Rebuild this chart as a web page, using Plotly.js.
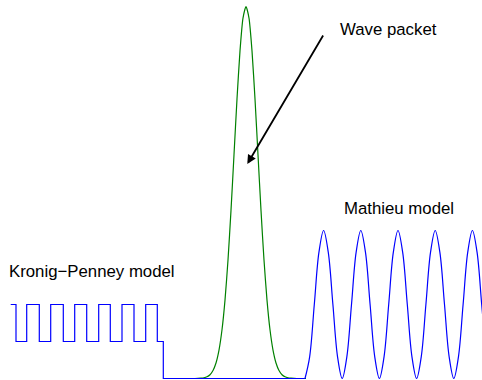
<!DOCTYPE html>
<html>
<head>
<meta charset="utf-8">
<script src="https://cdn.plot.ly/plotly-3.0.1.min.js"></script>
<style>
  html, body { margin: 0; padding: 0; background: #ffffff; }
  #chart { width: 482px; height: 380px; }
</style>
</head>
<body>
<div id="chart"></div>
<script>
// Kronig–Penney potential: step corners (drawn with an 'hv' step line), then flat floor
const kpX = [10.7, 16, 26.7, 39.3, 50.7, 63.3, 74.7, 86.7, 98.7, 110.3, 122, 134, 145.7, 157.3, 163.3, 305];
const kpY = [74, 37, 74, 37, 74, 37, 74, 37, 74, 37, 74, 37, 74, 37, 0, 0];

// Mathieu potential: cosine-shaped wells, sampled every eighth of a period
const mathieuX = [305, 309.65, 314.3, 318.95, 323.6, 328.25, 332.9, 337.55,
                  342.2, 346.85, 351.5, 356.15, 360.8, 365.45, 370.1, 374.75,
                  379.4, 384.05, 388.7, 393.35, 398, 402.65, 407.3, 411.95,
                  416.6, 421.25, 425.9, 430.55, 435.2, 439.85, 444.5, 449.15,
                  453.8, 458.45, 463.1, 467.75, 472.4, 477.05, 481.7, 486.35];
const mathieuY = [0, 21.7, 74, 126.3, 148, 126.3, 74, 21.7,
                  0, 21.7, 74, 126.3, 148, 126.3, 74, 21.7,
                  0, 21.7, 74, 126.3, 148, 126.3, 74, 21.7,
                  0, 21.7, 74, 126.3, 148, 126.3, 74, 21.7,
                  0, 21.7, 74, 126.3, 148, 126.3, 74, 21.7];

// Gaussian wave packet envelope
const packetX = [186, 189, 192, 195, 198, 201, 204, 207, 210, 213, 216, 219, 222, 225,
                 228, 231, 234, 237, 240, 243, 246, 249, 252, 255, 258, 261, 264, 267,
                 270, 273, 276, 279, 282, 285, 288, 291, 294, 297, 300, 303, 306];
const packetY = [0, 0, 0, 0, 0.1, 0.3, 0.7, 1.7, 3.8, 8.0, 15.5, 28.4, 48.7, 78.4,
                 118.5, 168.1, 223.7, 279.5, 327.6, 360.4, 372, 360.4, 327.6, 279.5,
                 223.7, 168.1, 118.5, 78.4, 48.7, 28.4, 15.5, 8.0, 3.8, 1.7, 0.7, 0.3,
                 0.1, 0, 0, 0, 0];

const labels = {
  packet: 'Wave packet',
  mathieu: 'Mathieu model',
  kronig: 'Kronig\u2212Penney model'
};

const BLUE = '#0000ff';
const GREEN = '#008000';
const FONT = { family: 'Liberation Sans, Arial, sans-serif', size: 16.8, color: '#000000' };

const traces = [
  {
    x: packetX, y: packetY, type: 'scatter', mode: 'lines',
    line: { color: GREEN, width: 1.2, shape: 'spline', smoothing: 0.6 },
    hoverinfo: 'skip'
  },
  {
    x: kpX, y: kpY, type: 'scatter', mode: 'lines',
    line: { color: BLUE, width: 1.2, shape: 'hv' },
    hoverinfo: 'skip'
  },
  {
    x: mathieuX, y: mathieuY, type: 'scatter', mode: 'lines',
    line: { color: BLUE, width: 1.2, shape: 'spline', smoothing: 1 },
    hoverinfo: 'skip'
  }
];

const layout = {
  width: 482, height: 380,
  margin: { l: 0, r: 0, t: 0, b: 0 },
  paper_bgcolor: '#ffffff', plot_bgcolor: '#ffffff',
  showlegend: false,
  xaxis: { range: [0, 482], visible: false, fixedrange: true },
  yaxis: { range: [-1.5, 378.5], visible: false, fixedrange: true },
  annotations: [
    {
      x: 247.3, y: 214.5, xref: 'x', yref: 'y',
      ax: 324, ay: 344.5, axref: 'x', ayref: 'y',
      text: '', showarrow: true,
      arrowhead: 2, arrowsize: 1, arrowwidth: 1.8, arrowcolor: '#000000'
    },
    {
      x: 338, y: 349.5, xref: 'x', yref: 'y',
      xanchor: 'left', yanchor: 'middle',
      text: labels.packet, showarrow: false, font: FONT
    },
    {
      x: 341.5, y: 170.5, xref: 'x', yref: 'y',
      xanchor: 'left', yanchor: 'middle',
      text: labels.mathieu, showarrow: false, font: FONT
    },
    {
      x: 7, y: 107.5, xref: 'x', yref: 'y',
      xanchor: 'left', yanchor: 'middle',
      text: labels.kronig, showarrow: false, font: FONT
    }
  ]
};

Plotly.newPlot('chart', traces, layout, { staticPlot: true, displayModeBar: false });
</script>
</body>
</html>
